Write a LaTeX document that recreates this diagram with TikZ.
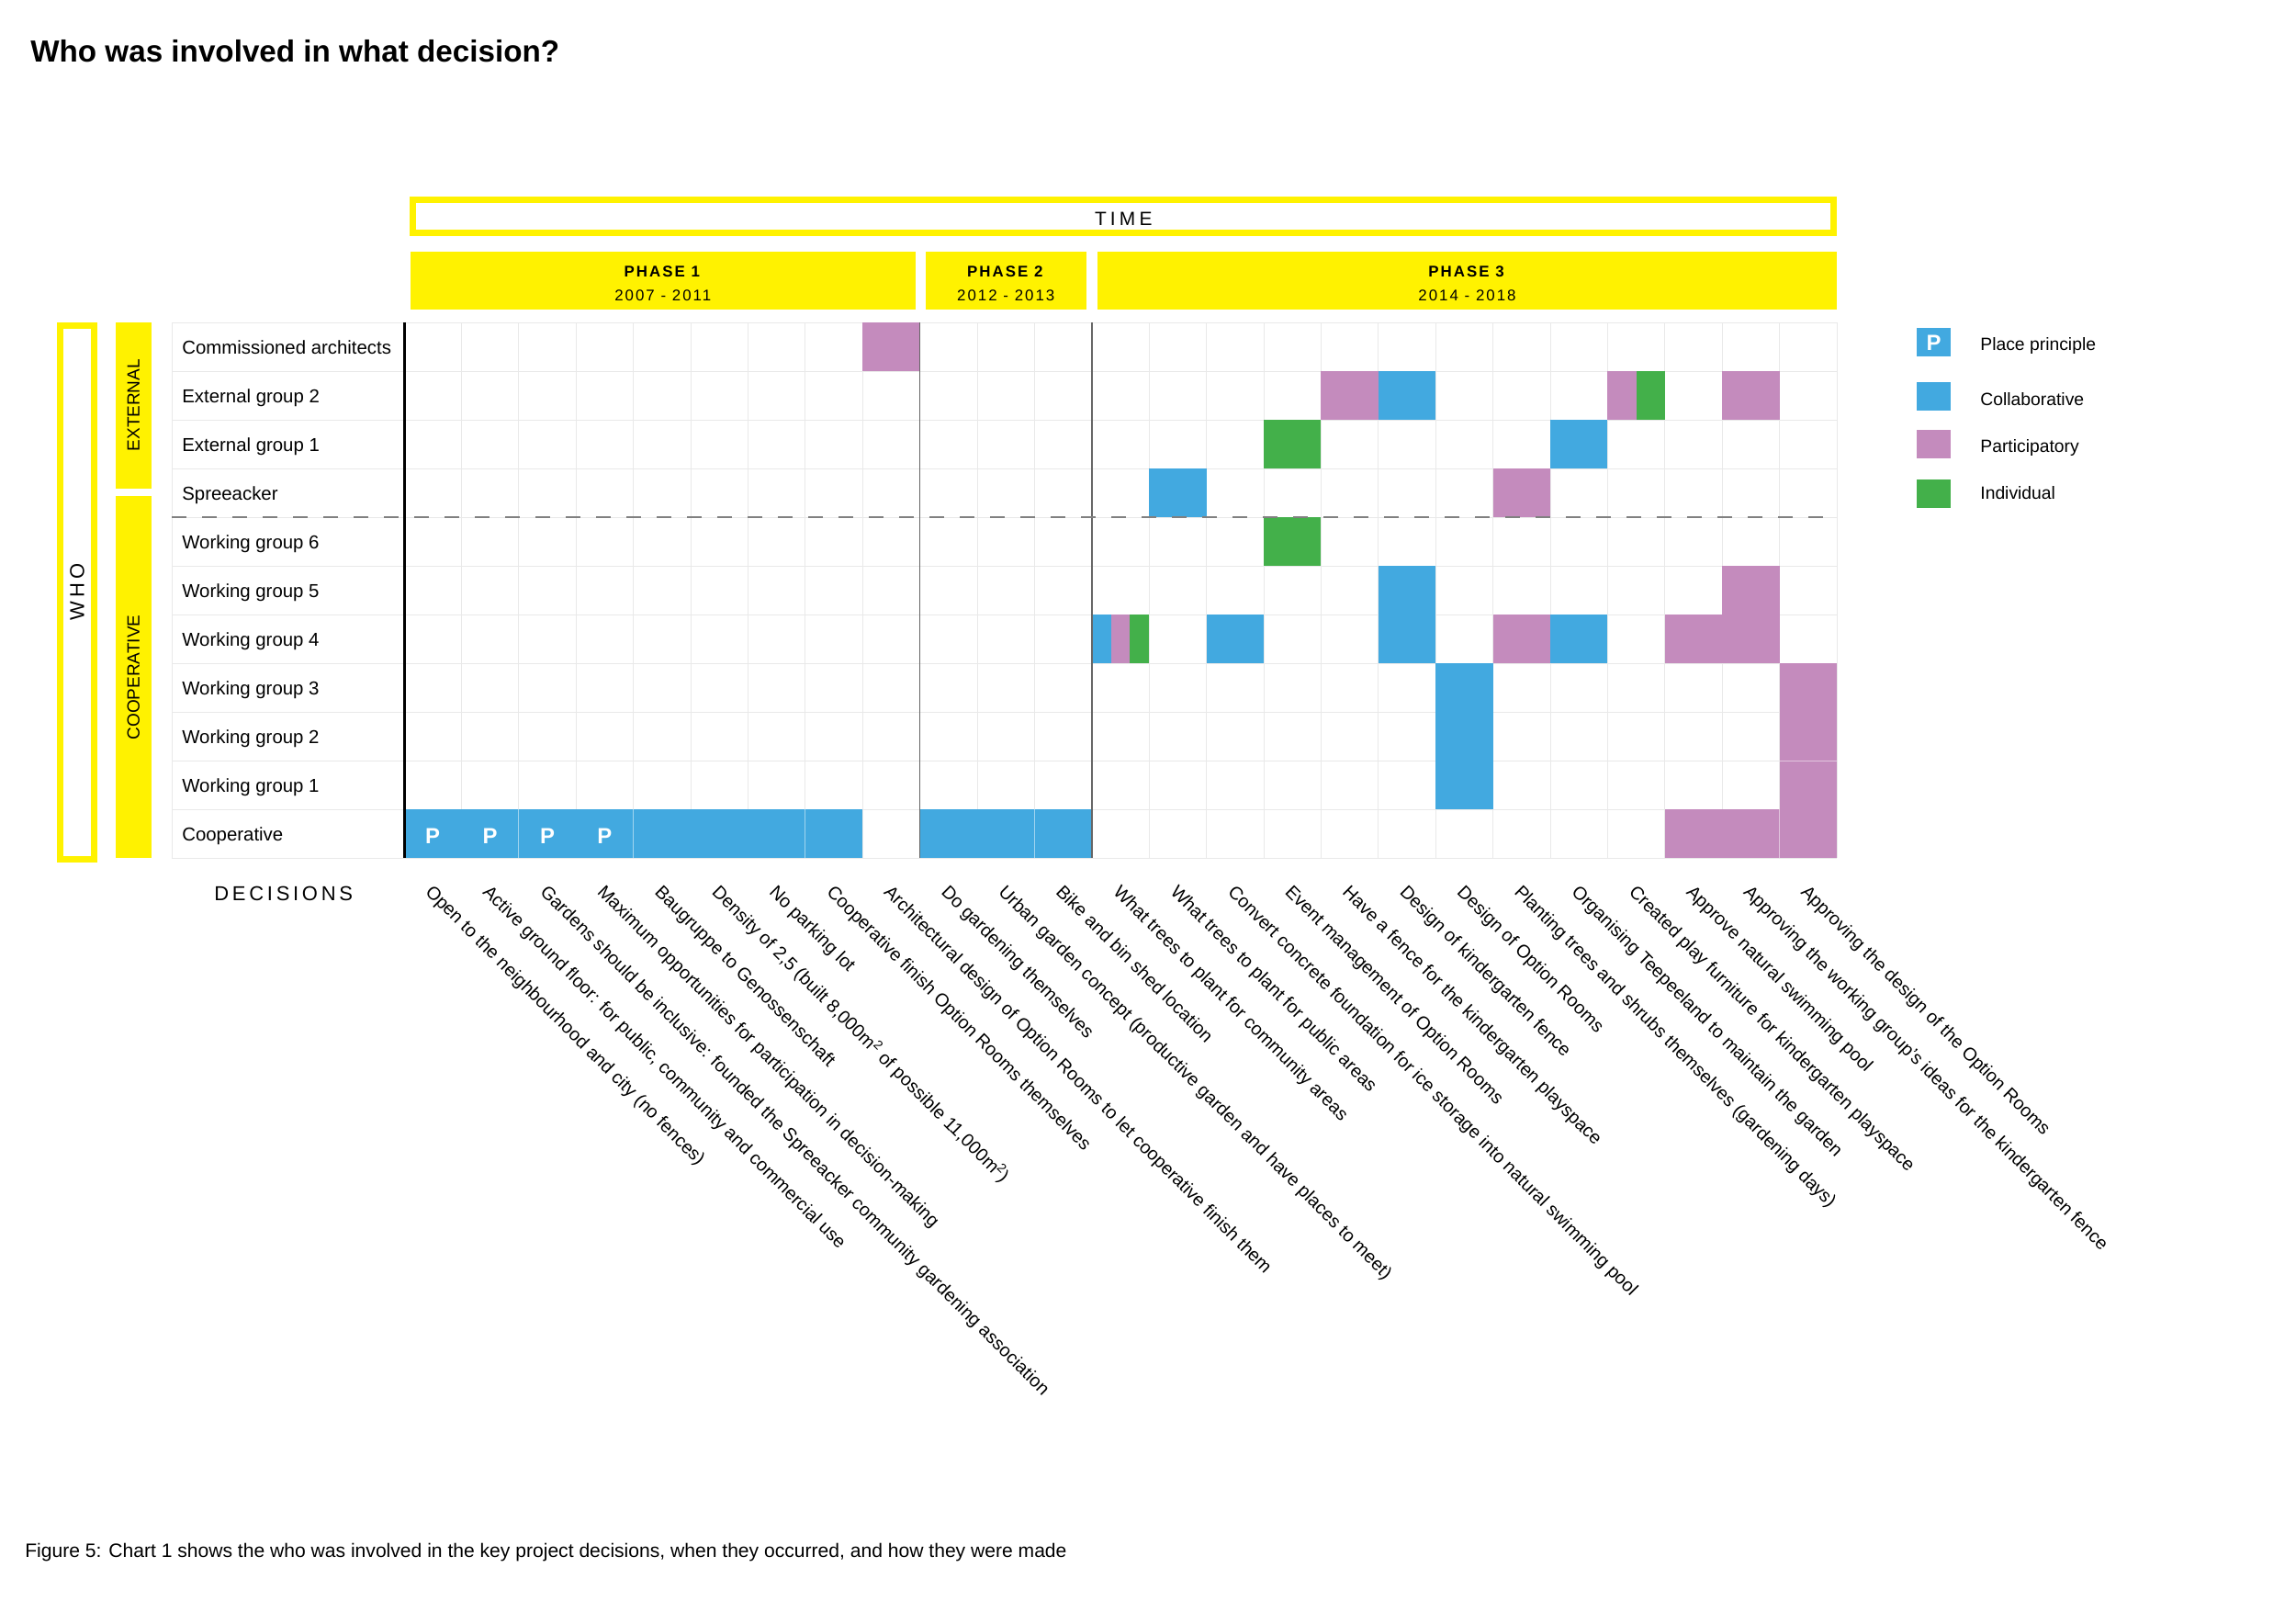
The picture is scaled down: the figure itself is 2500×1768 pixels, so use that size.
\documentclass[tikz,border=0pt]{standalone}
\usepackage{fontspec}
\setmainfont{Liberation Sans}
\usetikzlibrary{positioning}
\definecolor{signal}{HTML}{FFF200}
\definecolor{collab}{HTML}{42A9E0}
\definecolor{partic}{HTML}{C48BBD}
\definecolor{indiv}{HTML}{43B04A}
\definecolor{faint}{HTML}{E9E9E9}

\begin{document}
\begin{tikzpicture}[x=0.2mm,y=-0.2mm,node distance=6.4mm,
    every node/.style={inner sep=0pt},
    who node/.style={font=\fontsize{11.6}{14}\selectfont,anchor=base west},
    what node/.style={font=\fontsize{11.3}{14}\selectfont,rotate=-45,anchor=base west},
    phase node/.style={fill=signal,minimum height=12.6mm},
    phase text/.style={align=center,font=\fontsize{9.6}{15.1}\selectfont\addfontfeature{LetterSpace=12}},
    group node/.style={fill=signal,rotate=90,minimum height=7.86mm,font=\fontsize{10.8}{13}\selectfont},
    key node/.style={minimum width=7.4mm,minimum height=6.2mm},
    key text/.style={font=\fontsize{11}{13}\selectfont,anchor=base west},
    pp/.style={text=white,font=\bfseries\fontsize{13.6}{16}\selectfont}]
  \useasboundingbox (0,0) rectangle (2500,1768);

  \node[anchor=west,font=\bfseries\fontsize{18.9}{22}\selectfont] (title) at (33,56) {Who was involved in what decision?};

  % time line and phases
  \node[draw=signal,line width=1.4mm,minimum width=309.3mm,minimum height=7.2mm] (time) at (1223.25,235.5) {};
  \node[font=\fontsize{11.9}{14}\selectfont\addfontfeature{LetterSpace=20},yshift=-0.5mm] (timet) at (time) {TIME};
  \node[phase node,minimum width=109.9mm] (p1) at (721.75,305.5) {};
  \node[phase node,minimum width=35.1mm] (p2) at (1095.25,305.5) {};
  \node[phase node,minimum width=161mm] (p3) at (1597.5,305.5) {};
  \node[phase text,yshift=-0.66mm] (p1t) at (p1) {\textbf{PHASE 1}\\2007 - 2011};
  \node[phase text,yshift=-0.66mm] (p2t) at (p2) {\textbf{PHASE 2}\\2012 - 2013};
  \node[phase text,yshift=-0.66mm] (p3t) at (p3) {\textbf{PHASE 3}\\2014 - 2018};

  % who
  \node[draw=signal,line width=1.4mm,rotate=90,minimum width=116.2mm,minimum height=7.46mm,
        font=\fontsize{12.5}{15}\selectfont\addfontfeature{LetterSpace=20}] (who) at (84.15,644.75) {WHO};
  \node[group node,minimum width=36.2mm] (ext) at (145.35,441.2) {EXTERNAL};
  \node[group node,minimum width=78.8mm] (coop) at (145.35,737.45) {COOPERATIVE};

  % grid
  \foreach \r in {0,...,11} \draw[faint] (187,{351+\r*53}) -- (2000,{351+\r*53});
  \foreach \c in {1,...,25} \draw[faint] ({440+\c*62.4},351) -- ({440+\c*62.4},934);
  \draw[faint] (187,351) -- (187,934);

  \foreach \n [count=\r] in {Commissioned architects,External group 2,External group 1,Spreeacker,
      Working group 6,Working group 5,Working group 4,Working group 3,Working group 2,Working group 1,Cooperative}
    \node[who node] (w\r) at (198,{385.5+(\r-1)*53}) {\n};

  % decisions made
  \foreach \c/\r/\k in {9/1/partic,17/2/partic,18/2/collab,24/2/partic,16/3/indiv,21/3/collab,
      14/4/collab,20/4/partic,16/5/indiv,18/6/collab,24/6/partic,15/7/collab,18/7/collab,
      20/7/partic,21/7/collab,23/7/partic,24/7/partic,19/8/collab,25/8/partic,19/9/collab,
      25/9/partic,19/10/collab,25/10/partic,1/11/collab,2/11/collab,3/11/collab,4/11/collab,
      5/11/collab,6/11/collab,7/11/collab,8/11/collab,10/11/collab,11/11/collab,12/11/collab,
      23/11/partic,24/11/partic,25/11/partic}
    \fill[\k] ({440+(\c-1)*62.4},{351+(\r-1)*53}) rectangle +(62.4,53);
  \fill[partic] (1750.4,404) rectangle +(31.2,53);
  \fill[indiv] (1781.6,404) rectangle +(31.2,53);
  \fill[collab] (1188.8,669) rectangle +(20.8,53);
  \fill[partic] (1209.6,669) rectangle +(20.8,53);
  \fill[indiv] (1230.4,669) rectangle +(20.8,53);
  \foreach \x in {564.8,689.6,876.8,1126.4,1937.6} \draw[white,opacity=0.5] (\x,881) -- (\x,934);
  \draw[white,opacity=0.5] (1937.6,828) -- (2000,828);
  \foreach \c in {1,...,4} \node[pp] (pp\c) at ({440+(\c-0.5)*62.4},910) {P};

  \draw[line width=0.6mm] (440,351) -- (440,934);
  \draw[black!60,line width=0.3mm] (1001.6,351) -- (1001.6,934);
  \draw[black!60,line width=0.3mm] (1188.8,351) -- (1188.8,934);
  \draw[black!50,line width=0.4mm,dash pattern=on 3.2mm off 3.4mm] (187,563) -- (2000,563);

  % what
  \node[anchor=west,font=\fontsize{12.5}{15}\selectfont\addfontfeature{LetterSpace=17}] (dec) at (233,973) {DECISIONS};
  \foreach \t [count=\i] in {Open to the neighbourhood and city (no fences),
      {Active ground floor: for public, community and commercial use},
      Gardens should be inclusive: founded the Spreeacker community gardening association,
      Maximum opportunities for participation in decision-making,
      Baugruppe to Genossenschaft,
      {Density of 2,5 (built 8,000m\textsuperscript{2} of possible 11,000m\textsuperscript{2})},
      No parking lot,
      Cooperative finish Option Rooms themselves,
      Architectural design of Option Rooms to let cooperative finish them,
      Do gardening themselves,
      Urban garden concept (productive garden and have places to meet),
      Bike and bin shed location,
      What trees to plant for community areas,
      What trees to plant for public areas,
      Convert concrete foundation for ice storage into natural swimming pool,
      Event management of Option Rooms,
      Have a fence for the kindergarten playspace,
      Design of kindergarten fence,
      Design of Option Rooms,
      Planting trees and shrubs themselves (gardening days),
      Organising Teepeeland to maintain the garden,
      Created play furniture for kindergarten playspace,
      Approve natural swimming pool,
      Approving the working group’s ideas for the kindergarten fence,
      Approving the design of the Option Rooms}
    \node[what node] (d\i) at ({440+(\i-0.5)*62.4-9},972) {\t};

  % legend
  \node[key node,fill=collab,pp] (k1) at (2105.5,373) {P};
  \node[key node,fill=collab] (k2) at (2105.5,432) {};
  \node[key node,fill=partic] (k3) at (2105.5,484) {};
  \node[key node,fill=indiv] (k4) at (2105.5,538) {};
  \node[key text] (l1) at (2156,381.3) {Place principle};
  \node[key text] (l2) at (2156,442) {Collaborative};
  \node[key text] (l3) at (2156,493) {Participatory};
  \node[key text] (l4) at (2156,543.7) {Individual};

  \node[anchor=west,font=\fontsize{12}{14}\selectfont] (caption) at (27,1690)
    {Figure 5: Chart 1 shows the who was involved in the key project decisions, when they occurred, and how they were made};
\end{tikzpicture}
\end{document}
